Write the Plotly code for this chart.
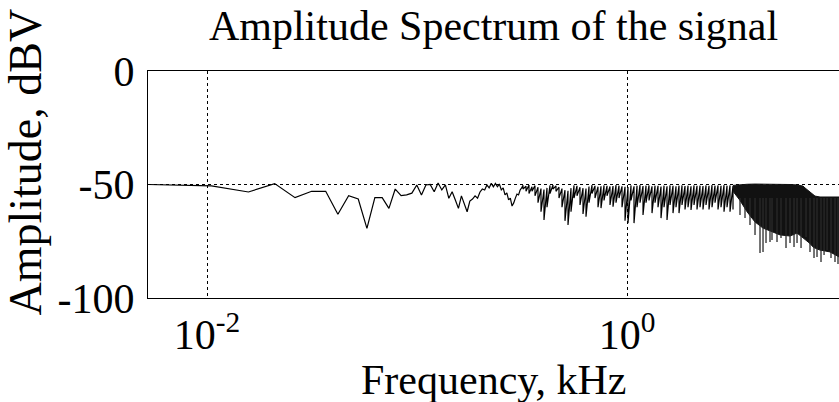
import plotly.graph_objects as go

# ---------------- data ----------------
# Low-frequency FFT bins (kHz) and amplitude (dBV)
low_freq = [0.00525, 0.0105, 0.01575, 0.021, 0.02625, 0.0315, 0.03675, 0.042, 0.04725, 0.0525,
            0.05775, 0.063, 0.06825, 0.0735, 0.07875, 0.084, 0.08925, 0.0945, 0.09975, 0.105,
            0.11025, 0.1155, 0.12075, 0.126, 0.13125, 0.1365, 0.14175, 0.147, 0.15225, 0.1575,
            0.16275, 0.168, 0.17325, 0.1785, 0.18375, 0.189, 0.19425, 0.1995, 0.20475, 0.21,
            0.21525, 0.2205, 0.22575, 0.231, 0.23625, 0.2415, 0.24675, 0.252, 0.25725, 0.2625,
            0.26775, 0.273, 0.27825, 0.2835, 0.28875, 0.294, 0.29925, 0.3045, 0.30975, 0.315]
low_amp = [-50.0, -50.6, -53.3, -49.6, -55.8, -53.0, -53.0, -63.1, -54.9, -56.4,
           -69.3, -55.8, -55.8, -60.5, -52.0, -54.9, -54.6, -53.8, -50.2, -54.6,
           -50.2, -50.0, -53.2, -49.3, -52.4, -50.2, -56.1, -53.2, -56.8, -60.5,
           -55.0, -59.0, -62.0, -57.3, -56.4, -55.0, -56.0, -53.3, -52.0, -52.4,
           -50.2, -51.5, -49.5, -51.0, -49.5, -51.0, -49.8, -52.4, -51.5, -54.6,
           -53.7, -56.8, -56.0, -59.5, -58.1, -56.0, -54.2, -54.6, -52.4, -51.5]

# Mid band comb: each tooth has a peak and a floor (kHz, dBV)
comb_freq = [0.3197, 0.3304, 0.3414, 0.3528, 0.3646, 0.3768, 0.3894, 0.4024, 0.4159, 0.4298,
             0.4441, 0.4589, 0.4743, 0.4901, 0.5065, 0.5236, 0.5411, 0.5592, 0.5779, 0.5972,
             0.6172, 0.6379, 0.6592, 0.6813, 0.7040, 0.7276, 0.7519, 0.7771, 0.8031, 0.8299,
             0.8577, 0.8864, 0.9160, 0.9467, 0.9783, 1.0110, 1.0448, 1.0798, 1.1159, 1.1532,
             1.1918, 1.2316, 1.2728, 1.3154, 1.3594, 1.4048, 1.4518, 1.5004, 1.5505, 1.6024,
             1.6560, 1.7113, 1.7686, 1.8277, 1.8888, 1.9520, 2.0173, 2.0847, 2.1544, 2.2265,
             2.3009, 2.3779, 2.4574, 2.5396, 2.6245, 2.7123, 2.8030, 2.8967, 2.9936, 3.0937,
             3.1972]
comb_peak = [-50.3, -50.8, -50.2, -51.0, -50.5, -51.2, -51.8, -52.2, -51.5, -50.4,
             -50.2, -50.6, -51.2, -51.8, -52.5, -52.8, -51.6, -50.4, -50.6, -51.2,
             -51.6, -51.8, -50.9, -50.3, -50.6, -51.0, -50.8, -50.4, -50.6, -50.9,
             -50.7, -50.3, -50.5, -50.8, -51.0, -51.1, -50.4, -50.8, -50.5, -50.3,
             -50.7, -50.5, -50.4, -50.8, -50.5, -50.6, -50.9, -50.5, -50.8, -50.4,
             -50.6, -50.8, -50.5, -50.4, -50.7, -50.5, -50.8, -50.4, -50.6, -50.5,
             -50.7, -50.4, -50.6, -50.3, -50.5, -50.4, -50.6, -50.3, -50.5, -50.4,
             -50.6]
comb_floor = [-52.0, -53.0, -54.0, -53.0, -55.0, -58.0, -62.0, -65.6, -60.0, -54.0,
              -52.0, -53.0, -56.0, -60.0, -66.0, -67.8, -62.0, -56.0, -55.0, -59.0,
              -63.0, -64.2, -58.0, -54.0, -56.0, -60.0, -60.4, -57.0, -55.0, -59.0,
              -59.8, -58.0, -56.0, -60.0, -66.0, -67.0, -57.0, -67.0, -60.0, -58.0,
              -63.4, -58.0, -57.0, -62.6, -58.0, -60.0, -64.8, -60.0, -65.6, -59.0,
              -62.6, -60.0, -62.6, -59.0, -61.0, -60.0, -61.2, -59.0, -61.0, -60.0,
              -61.0, -59.0, -61.0, -60.0, -58.0, -61.0, -60.0, -62.0, -60.0, -62.0,
              -61.0]

# High band: solid band between an upper and a lower envelope (kHz, dBV)
band_freq = [3.197, 3.452, 3.728, 4.070, 4.443, 4.903, 5.353, 5.974, 6.451, 6.890,
             7.041, 7.437, 7.686, 7.856, 8.299, 8.677, 9.261, 9.783, 10.22]
band_upper = [-50.4, -50.0, -49.9, -49.8, -49.8, -49.8, -49.8, -50.0, -50.2, -50.7,
              -51.5, -53.3, -54.6, -55.1, -55.5, -55.4, -55.5, -55.5, -55.5]
band_lower = [-53.0, -57.0, -62.0, -66.5, -69.2, -70.9, -72.2, -72.7, -71.4, -73.5,
              -74.4, -76.0, -77.5, -78.0, -78.9, -79.2, -79.7, -81.0, -81.9]

# High band: deep notches below the solid band (kHz, dBV)
notch_freq = [3.452, 3.647, 3.852, 4.070, 4.299, 4.443, 4.591, 4.797, 4.903, 5.180,
              5.412, 5.717, 5.974, 6.242, 6.451, 6.741, 7.118, 7.437, 7.771, 8.031,
              8.391, 8.677, 8.967, 9.363, 9.783, 10.11]
notch_floor = [-63.4, -64.8, -67.8, -72.2, -80.2, -79.7, -75.8, -75.3, -74.4, -75.3,
               -73.6, -78.0, -75.8, -77.5, -75.8, -78.0, -73.1, -79.7, -82.4, -81.9,
               -84.1, -81.1, -78.9, -82.4, -84.1, -85.0]
notch_top = -56.0

x_tick_vals = [0.01, 1]
x_tick_text = ["10<sup>-2</sup>", "10<sup>0</sup>"]
y_tick_vals = [0, -50, -100]
y_tick_text = ["0", "-50", "-100"]

# ---------------- figure ----------------
FONT = "Liberation Serif"
fig = go.Figure()

# low band + comb as one continuous line
xs = list(low_freq)
ys = list(low_amp)
for f, p, fl in zip(comb_freq, comb_peak, comb_floor):
    xs += [f, f]
    ys += [p, fl]
fig.add_trace(go.Scatter(x=xs, y=ys, mode="lines",
                         line=dict(color="black", width=1.2), hoverinfo="skip",
                         showlegend=False))

# solid high-frequency band
fig.add_trace(go.Scatter(x=band_freq + band_freq[::-1],
                         y=band_upper + band_lower[::-1],
                         mode="lines", fill="toself", fillcolor="#111111",
                         line=dict(color="#111111", width=1), hoverinfo="skip",
                         showlegend=False))

# notches
nx, ny = [], []
for f, fl in zip(notch_freq, notch_floor):
    nx += [f, f, None]
    ny += [notch_top, fl, None]
fig.add_trace(go.Scatter(x=nx, y=ny, mode="lines",
                         line=dict(color="#2a2a2a", width=1.3), hoverinfo="skip",
                         showlegend=False))

fig.update_layout(
    width=839, height=402,
    margin=dict(l=148, r=0, t=71, b=104, autoexpand=False),
    paper_bgcolor="white", plot_bgcolor="white",
    font=dict(family=FONT, color="black", size=42),
    title=dict(text="Amplitude Spectrum of the signal",
               font=dict(family=FONT, size=42, color="black"),
               x=0.5, xref="paper", xanchor="center",
               y=1 - 25 / 402, yref="container", yanchor="middle"),
    xaxis=dict(type="log", range=[-2.281, 1.0095], automargin=False,
               tickvals=x_tick_vals, ticktext=x_tick_text,
               showline=True, linecolor="black", linewidth=1, mirror=True,
               showgrid=True, gridcolor="black", gridwidth=1, griddash="3px,3px",
               ticks="", zeroline=False,
               tickfont=dict(family=FONT, size=42, color="black")),
    yaxis=dict(range=[-100, 0], tickvals=y_tick_vals, ticktext=y_tick_text,
               automargin=False,
               showline=True, linecolor="black", linewidth=1, mirror=False,
               showgrid=True, gridcolor="black", gridwidth=1, griddash="3px,3px",
               ticks="", zeroline=False, ticklabelstandoff=4,
               tickfont=dict(family=FONT, size=42, color="black")),
    annotations=[
        dict(text="Frequency, kHz", xref="paper", yref="paper",
             x=0.5, y=(298 - 380) / 227, xanchor="center", yanchor="middle",
             showarrow=False, font=dict(family=FONT, size=42, color="black")),
        dict(text="Amplitude, dBV", xref="paper", yref="paper",
             x=(25 - 148) / 691, y=(298 - 162.5) / 227, xanchor="center", yanchor="middle",
             textangle=-90, showarrow=False,
             font=dict(family=FONT, size=46, color="black")),
    ],
)

fig.write_html("out.html", config={"displayModeBar": False},
               post_script="document.body.style.margin='0';document.body.style.overflow='hidden';")
